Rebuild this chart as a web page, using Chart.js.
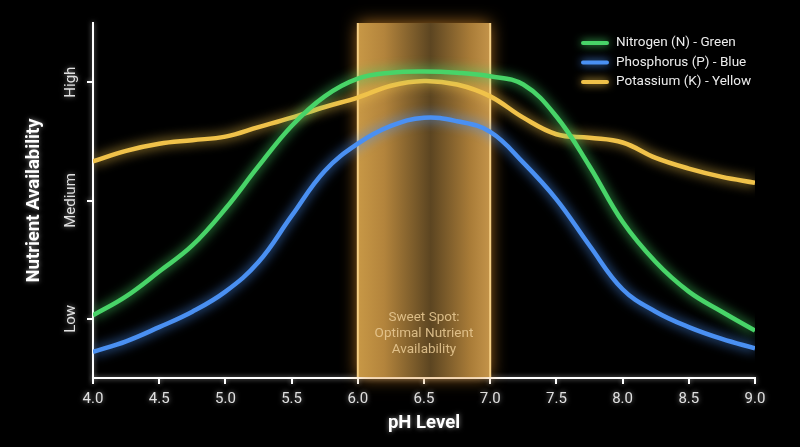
<!DOCTYPE html>
<html>
<head>
<meta charset="utf-8">
<script src="https://cdn.jsdelivr.net/npm/chart.js@4.4.1/dist/chart.umd.min.js"></script>
<style>
  html, body { margin: 0; padding: 0; background: #000; }
  canvas { display: block; }
</style>
</head>
<body>
<canvas id="c" width="800" height="447"></canvas>
<script>
// ---- data ----
const phLevels   = [4.0, 4.25, 4.5, 4.75, 5.0, 5.25, 5.5, 5.75, 6.0, 6.25, 6.5, 6.75, 7.0, 7.25, 7.5, 7.75, 8.0, 8.25, 8.5, 8.75, 9.0];
const nitrogen   = [1.03, 1.19, 1.40, 1.62, 1.93, 2.29, 2.63, 2.88, 3.03, 3.08, 3.09, 3.08, 3.05, 2.98, 2.71, 2.29, 1.82, 1.48, 1.23, 1.06, 0.90];
const phosphorus = [0.72, 0.81, 0.93, 1.06, 1.23, 1.48, 1.87, 2.25, 2.48, 2.63, 2.70, 2.67, 2.58, 2.32, 2.01, 1.62, 1.25, 1.06, 0.93, 0.83, 0.75];
const potassium  = [2.33, 2.42, 2.48, 2.51, 2.54, 2.62, 2.70, 2.79, 2.87, 2.97, 3.01, 2.98, 2.88, 2.70, 2.56, 2.53, 2.49, 2.36, 2.27, 2.20, 2.15];
const seriesNames = ['Nitrogen (N) - Green', 'Phosphorus (P) - Blue', 'Potassium (K) - Yellow'];
const levelValues = [1, 2, 3];
const levelLabels = ['Low', 'Medium', 'High'];
const sweetSpot = [6.0, 7.0];
const sweetSpotText = ['Sweet Spot:', 'Optimal Nutrient', 'Availability'];

// ---- styles ----
const colors = ['#48d468', '#4a90f2', '#f0c24a'];
Chart.defaults.font.family = 'Roboto, "Noto Sans", sans-serif';

const toPoints = arr => arr.map((v, i) => ({ x: phLevels[i], y: v }));

const glowPlugin = {
  id: 'glow',
  beforeDraw(chart) {
    const ctx = chart.ctx;
    ctx.save();
    ctx.shadowColor = 'rgba(255,255,255,0.55)';
    ctx.shadowBlur = 5;
  },
  beforeDatasetsDraw(chart) {
    const ctx = chart.ctx;
    ctx.restore();
    // sweet spot band
    const x = chart.scales.x;
    const a = chart.chartArea;
    const x0 = x.getPixelForValue(sweetSpot[0]);
    const x1 = x.getPixelForValue(sweetSpot[1]);
    const top = a.top, bot = a.bottom - 1;
    ctx.save();
    ctx.shadowColor = 'rgba(220,140,40,0.8)';
    ctx.shadowBlur = 16;
    ctx.fillStyle = 'rgba(150,105,40,1)';
    ctx.fillRect(x0, top, x1 - x0, bot - top);
    ctx.restore();
    ctx.save();
    const g = ctx.createLinearGradient(x0, 0, x1, 0);
    g.addColorStop(0, '#c89846');
    g.addColorStop(0.2, '#b3843c');
    g.addColorStop(0.55, '#5c4521');
    g.addColorStop(0.85, '#a97c38');
    g.addColorStop(1, '#c4944a');
    ctx.fillStyle = g;
    ctx.fillRect(x0, top, x1 - x0, bot - top);
    ctx.strokeStyle = '#f6cf84';
    ctx.lineWidth = 2;
    ctx.beginPath();
    ctx.moveTo(x0, top); ctx.lineTo(x0, bot);
    ctx.moveTo(x1, top); ctx.lineTo(x1, bot);
    ctx.stroke();
    // band text
    ctx.fillStyle = 'rgba(235,205,150,0.85)';
    ctx.font = '13.5px Roboto, sans-serif';
    ctx.textAlign = 'center';
    ctx.textBaseline = 'middle';
    const cx = (x0 + x1) / 2;
    sweetSpotText.forEach((t, i) => ctx.fillText(t, cx, a.bottom - 60 + i * 16));
    ctx.restore();
  },
  beforeDatasetDraw(chart, args) {
    const ctx = chart.ctx;
    ctx.save();
    ctx.shadowColor = args.meta.dataset.options.borderColor;
    ctx.shadowBlur = 12;
  },
  afterDatasetDraw(chart) {
    chart.ctx.restore();
  },
  afterDraw(chart) {
    // legend
    const ctx = chart.ctx;
    const a = chart.chartArea;
    const lx = a.right - 172;
    const ly = a.top + 20;
    ctx.save();
    ctx.font = '13.5px Roboto, sans-serif';
    ctx.textBaseline = 'middle';
    ctx.textAlign = 'left';
    chart.data.datasets.forEach((ds, i) => {
      const y = ly + i * 19.5;
      ctx.save();
      ctx.shadowColor = ds.borderColor;
      ctx.shadowBlur = 8;
      ctx.strokeStyle = ds.borderColor;
      ctx.lineWidth = 4;
      ctx.lineCap = 'round';
      ctx.beginPath();
      ctx.moveTo(lx, y); ctx.lineTo(lx + 24, y);
      ctx.stroke();
      ctx.restore();
      ctx.fillStyle = '#ececec';
      ctx.fillText(ds.label, lx + 33, y);
    });
    ctx.restore();
  }
};

new Chart(document.getElementById('c'), {
  type: 'line',
  data: {
    datasets: [nitrogen, phosphorus, potassium].map((arr, i) => ({
      label: seriesNames[i],
      data: toPoints(arr),
      borderColor: colors[i],
      borderWidth: 4.5,
      pointRadius: 0,
      tension: 0.4,
      fill: false
    }))
  },
  options: {
    responsive: false,
    devicePixelRatio: 1,
    animation: false,
    layout: { padding: { left: 0, right: 45, top: 23, bottom: 0 } },
    plugins: { legend: { display: false }, tooltip: { enabled: false } },
    scales: {
      x: {
        type: 'linear',
        min: 4, max: 9,
        afterFit: s => { s.height = 69; },
        border: { color: '#ffffff', width: 2 },
        grid: { drawOnChartArea: false, color: '#ffffff', lineWidth: 2, tickLength: 6 },
        ticks: {
          stepSize: 0.5,
          color: '#e0e0e0',
          font: { size: 15 },
          padding: 6,
          callback: v => Number(v).toFixed(1)
        },
        title: {
          display: true, text: 'pH Level', color: '#ffffff',
          font: { size: 18.5, weight: 'bold' },
          padding: { top: 0, bottom: 13 }
        }
      },
      y: {
        type: 'linear',
        min: 0.5, max: 3.5,
        afterFit: s => { s.width = 93; },
        afterBuildTicks: s => { s.ticks = levelValues.map(v => ({ value: v })); },
        border: { color: '#ffffff', width: 2 },
        grid: { drawOnChartArea: false, color: '#ffffff', lineWidth: 2, tickLength: 6 },
        ticks: {
          color: '#e0e0e0',
          font: { size: 15 },
          minRotation: 90, maxRotation: 90,
          crossAlign: 'center',
          padding: -11.5,
          callback: (v) => levelLabels[levelValues.indexOf(v)]
        },
        title: {
          display: true, text: 'Nutrient Availability', color: '#ffffff',
          font: { size: 18.5, weight: 'bold' },
          padding: { top: 23.5, bottom: 0 }
        }
      }
    }
  },
  plugins: [glowPlugin]
});
</script>
</body>
</html>
